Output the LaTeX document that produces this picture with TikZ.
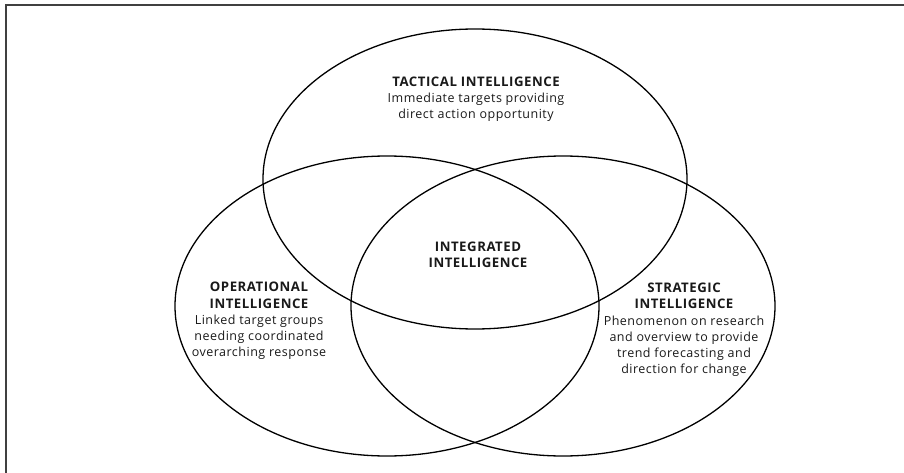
\documentclass[tikz,border=0pt]{standalone}
\usepackage{fontspec}
\setmainfont{Open Sans}[LetterSpace=4, BoldFeatures={LetterSpace=4}]
\usepackage{tikz}
\usetikzlibrary{shapes,positioning}

\newcommand{\vtitle}[1]{{\fontsize{13.2}{16.2}\selectfont\bfseries #1}}
\tikzset{
  venn/.style={ellipse, draw, line width=1.3pt, minimum width=424pt, minimum height=300pt, inner sep=0pt},
  venntext/.style={align=center, text=black!90, font=\fontsize{12.5}{16.2}\selectfont},
  frame/.style={draw=black!75, line width=1.3pt}
}

\begin{document}
\begin{tikzpicture}[x=1pt,y=-1pt]
\useasboundingbox (0,0) rectangle (904,473);
\draw[frame] (904,5) -- (6,5) -- (6,473);
%\node[venn] (all) at (475,250) {};
\node[venn] (tactical) at (475,179) {};
\node[venn] (operational) at (387,306) {};
\node[venn] (strategic) at (563,306) {};
\node[venntext] (tacticaltext) at (476,99) {\vtitle{TACTICAL INTELLIGENCE}\\Immediate targets providing\\direct action opportunity};
\node[venntext] (integratedtext) at (478,255) {\vtitle{INTEGRATED}\\\vtitle{INTELLIGENCE}};
\node[venntext] (operationaltext) at (259,321) {\vtitle{OPERATIONAL}\\\vtitle{INTELLIGENCE}\\Linked target groups\\needing coordinated\\overarching response};
\node[venntext] (strategictext) at (684,330) {\vtitle{STRATEGIC}\\\vtitle{INTELLIGENCE}\\Phenomenon on research\\and overview to provide\\trend forecasting and\\direction for change};
\end{tikzpicture}
\end{document}
